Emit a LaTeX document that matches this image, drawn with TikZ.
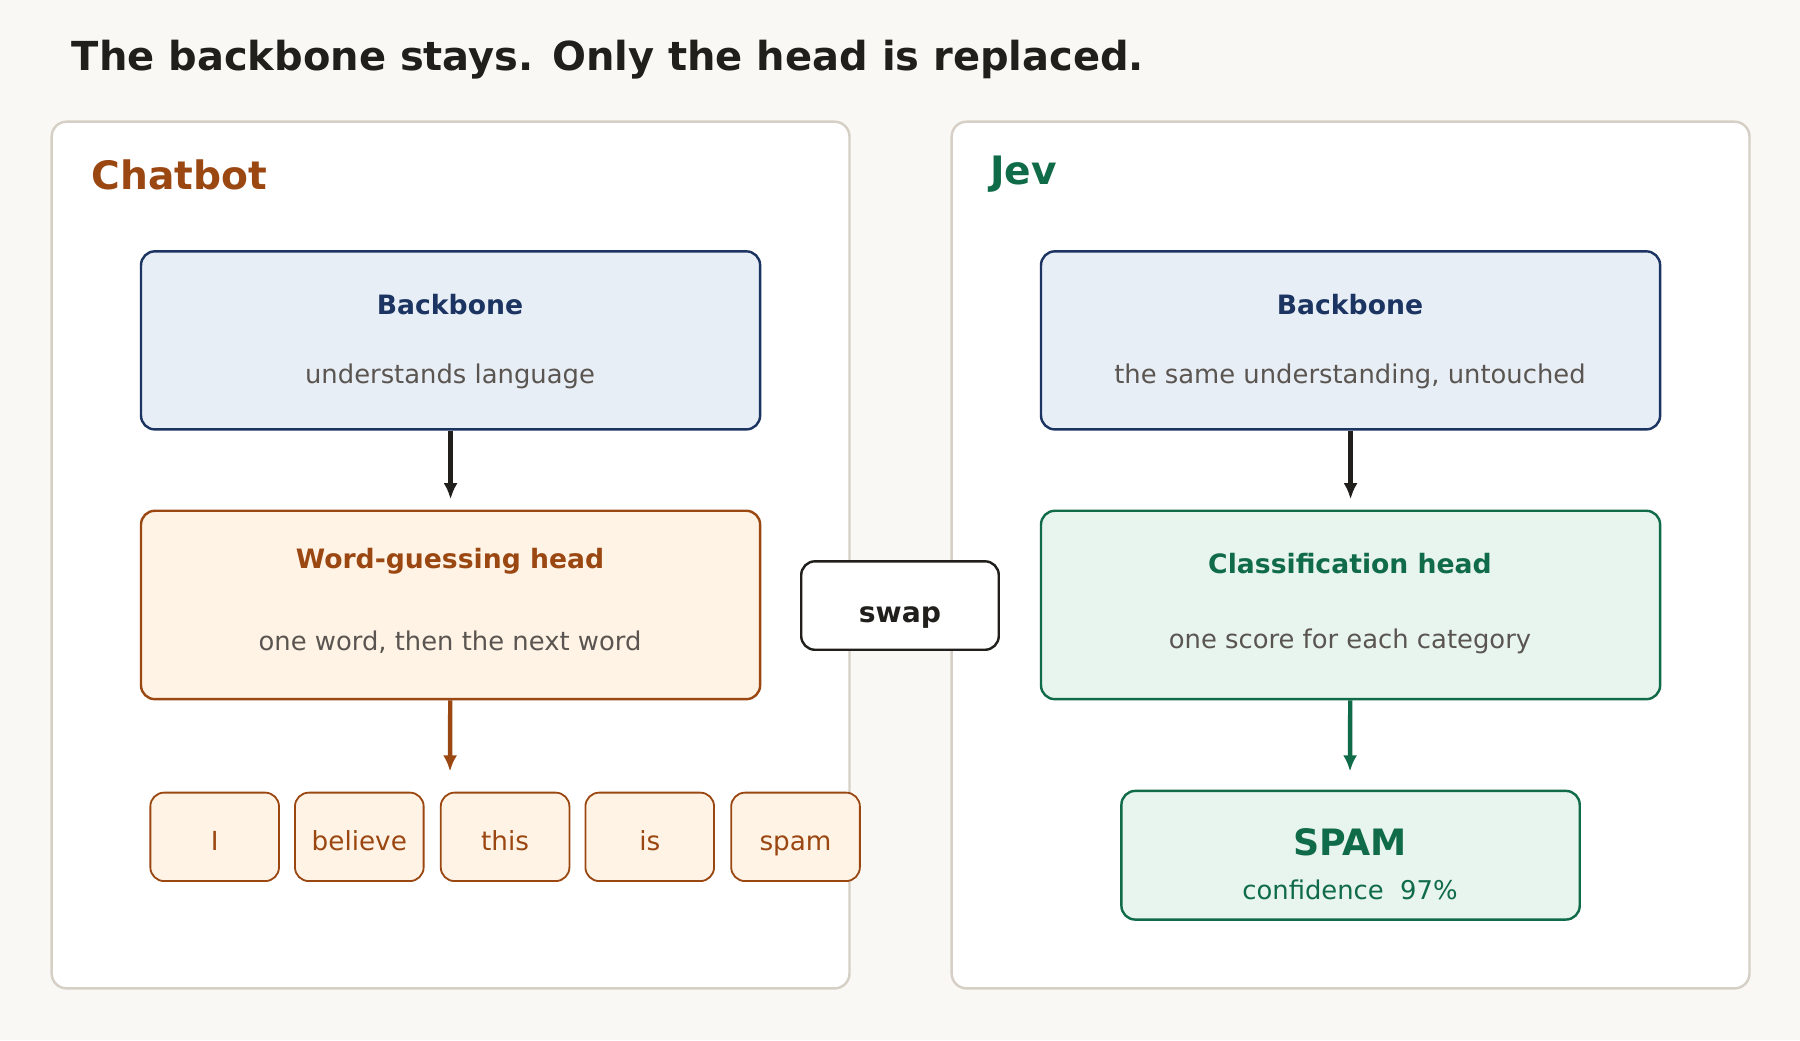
\documentclass[tikz,border=0pt]{standalone}
\usepackage{fontspec}
\setmainfont{DejaVu Sans}
\usetikzlibrary{arrows.meta}
\definecolor{bgc}{HTML}{FAF8F5}
\definecolor{panelc}{HTML}{D5CFC5}
\definecolor{navy}{HTML}{1C3461}
\definecolor{navyfill}{HTML}{E8EEF6}
\definecolor{rust}{HTML}{9A4712}
\definecolor{rustfill}{HTML}{FFF3E6}
\definecolor{pine}{HTML}{0F6B48}
\definecolor{pinefill}{HTML}{E8F5EE}
\definecolor{ink}{HTML}{211F1C}
\definecolor{muted}{HTML}{5A5550}
\tikzset{
  panel/.style={draw=panelc, line width=0.6pt, fill=white, rounded corners=0.13cm},
  box/.style={line width=0.6pt, rounded corners=0.12cm},
  token/.style={draw=rust, fill=rustfill, line width=0.45pt, rounded corners=0.12cm,
    minimum width=1.12cm, minimum height=0.77cm, text=rust, text height=1.6ex, text depth=0.4ex,
    font=\fontsize{6.5}{8}\selectfont},
  head/.style={font=\bfseries\fontsize{6.6}{8}\selectfont},
  sub/.style={text=muted, font=\fontsize{6.4}{8}\selectfont},
  flow/.style={line width=1.1pt, shorten >=0.09cm, -{Latex[length=4pt,width=3.5pt]}}
}
\begin{document}
\begin{tikzpicture}[x=0.01cm, y=-0.01cm]
    \fill[bgc] (0,0) rectangle (1568,906);

    % title and panels
    \node[anchor=west, inner sep=0, text=ink, font=\bfseries\fontsize{9.9}{12}\selectfont] (title) at (62,52) {The backbone stays. Only the head is replaced.};
    \draw[panel] (45,106) rectangle (740,861);
    \draw[panel] (829,106) rectangle (1524,861);
    \node[anchor=west, inner sep=0, text=rust, font=\bfseries\fontsize{9.7}{12}\selectfont] (chat) at (79,152) {Chatbot};
    \node[anchor=west, inner sep=0, text=pine, font=\bfseries\fontsize{9.7}{12}\selectfont] (jev) at (862,152) {Jev};

    % left column
    \node[box, draw=navy, fill=navyfill, minimum width=5.39cm, minimum height=1.55cm] (bbL) at (392.5,296.5) {};
    \node[head, text=navy] at (392,265) {Backbone};
    \node[sub] at (392,328) {understands language};
    \node[box, draw=rust, fill=rustfill, minimum width=5.39cm, minimum height=1.64cm] (hdL) at (392.5,527) {};
    \node[head, text=rust] at (392,489) {Word-guessing head};
    \node[sub] at (392,559) {one word, then the next word};
    \coordinate (outL) at (392,681);

    \node[token] (t1) at (187,729) {I};
    \node[token] (t2) at (313,729) {believe};
    \node[token] (t3) at (440,729) {this};
    \node[token] (t4) at (566,729) {is};
    \node[token] (t5) at (693,729) {spam};

    % right column
    \node[box, draw=navy, fill=navyfill, minimum width=5.39cm, minimum height=1.55cm] (bbR) at (1176.5,296.5) {};
    \node[head, text=navy] at (1176,265) {Backbone};
    \node[sub] at (1176,328) {the same understanding, untouched};
    \node[box, draw=pine, fill=pinefill, minimum width=5.39cm, minimum height=1.64cm] (hdR) at (1176.5,527) {};
    \node[head, text=pine] at (1176,491) {Classification head};
    \node[sub] at (1176,559) {one score for each category};
    \coordinate (outR) at (1176,681);
    \node[box, draw=pine, fill=pinefill, minimum width=3.99cm, minimum height=1.12cm] (res) at (1176.5,745) {};
    \node[text=pine, font=\bfseries\fontsize{9}{11}\selectfont] at (1176,734) {SPAM};
    \node[text=pine, font=\fontsize{6.4}{8}\selectfont] at (1176,775) {confidence\ \ 97\%};

    % swap
    \node[box, draw=ink, fill=white, minimum width=1.72cm, minimum height=0.77cm, text=ink,
      text height=1.6ex, text depth=0.1ex, font=\bfseries\fontsize{7}{9}\selectfont] (swap) at (784,527.5) {swap};

    % arrows
    \draw[flow, ink] (bbL) -- (bbL |- hdL.north);
    \draw[flow, rust] (hdL) -- (outL);
    \draw[flow, ink] (bbR) -- (bbR |- hdR.north);
    \draw[flow, pine] (hdR) -- (outR);
\end{tikzpicture}
\end{document}
